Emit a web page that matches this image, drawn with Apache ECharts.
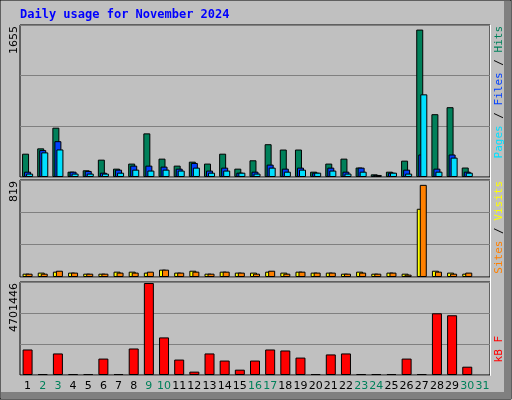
<!DOCTYPE html>
<html><head><meta charset="utf-8">
<script src="https://cdn.jsdelivr.net/npm/echarts@6/dist/echarts.min.js"></script>
<style>html,body{margin:0;padding:0;background:#c0c0c0}#c{width:512px;height:400px}</style>
</head><body><div id="c"></div>
<script>
const days = ['1','2','3','4','5','6','7','8','9','10','11','12','13','14','15','16','17','18','19','20','21','22','23','24','25','26','27','28','29','30','31'];
const weekend = ['2','3','9','10','16','17','23','24','30','31'];
const hits  = [254,312,537,58,73,189,91,146,475,200,124,167,146,254,91,182,357,299,299,58,146,200,103,29,58,178,1605,684,760,103,null];
const files = [58,293,390,58,66,47,80,124,124,113,91,153,70,102,47,58,135,91,102,47,102,58,102,22,47,80,245,91,245,58,null];
const pages = [37,268,300,37,37,37,47,80,70,80,70,102,47,70,47,37,102,58,80,47,70,37,58,22,47,37,900,58,211,47,null];
const visits= [28,37,45,37,28,28,45,45,37,62,37,53,28,45,37,37,45,37,45,37,37,28,45,28,37,28,576,53,37,28,null];
const sites = [28,28,53,37,28,28,37,37,45,62,37,45,28,45,37,28,53,28,45,37,37,28,37,28,37,20,778,45,28,37,null];
const kbytes= [1290000,0,1090000,0,0,830000,0,1340000,4650000,1900000,780000,170000,1090000,730000,270000,730000,1290000,1240000,880000,0,1040000,1090000,0,0,0,830000,0,3120000,3020000,420000,null];
const maxTop = 1655, maxMid = 819, maxBot = 4701446;

const ch = echarts.init(document.getElementById('c'));
const grids = [
  {left:20, top:25, width:470, height:152},
  {left:20, top:180, width:470, height:97},
  {left:20, top:282, width:470, height:93}
];
const xAx = i => ({type:'category', gridIndex:i, data:days, boundaryGap:true,
  axisLine:{show:false}, axisTick:{show:false},
  axisLabel:{show:i===2, interval:0, fontFamily:'DejaVu Sans', fontSize:11, margin:6,
    color: v => weekend.includes(v) ? '#00805a' : '#000'}});
const yAx = (i,m) => ({type:'value', gridIndex:i, min:0, max:m, interval:m/3,
  axisLine:{show:false}, axisTick:{show:false}, axisLabel:{show:false},
  splitLine:{lineStyle:{color:'#808080', width:1}}});
const bs = (name, xi, data, color, w, gap) => ({name, type:'bar', xAxisIndex:xi, yAxisIndex:xi, data,
  barWidth:w, barGap:gap, barMinHeight:1, animation:false,
  itemStyle:{color, borderColor:'#000', borderWidth:1}});
const vtext = (x, y, rich, text) => ({type:'text', x, y, rotation:Math.PI/2,
  style:{text, rich, fontFamily:'DejaVu Sans Mono', fontSize:11, align:'right', verticalAlign:'top'}});
ch.setOption({
  backgroundColor:'#c0c0c0',
  animation:false,
  grid: grids.map(g => Object.assign({show:true, borderColor:'#000', borderWidth:1, backgroundColor:'#c0c0c0'}, g)),
  xAxis:[xAx(0), xAx(1), xAx(2)],
  yAxis:[yAx(0,maxTop), yAx(1,maxMid), yAx(2,maxBot)],
  series:[
    bs('Hits',0,hits,'#00805a',7,'-71%'),
    bs('Files',0,files,'#0040ff',7,'-71%'),
    bs('Pages',0,pages,'#00e0ff',7,'-71%'),
    bs('Visits',1,visits,'#ffff00',7,'-57%'),
    bs('Sites',1,sites,'#ff8000',7,'-57%'),
    bs('KBytes',2,kbytes,'#ff0000',10,'0%')
  ],
  graphic:[
    {type:'rect', shape:{x:0,y:0,width:511,height:399}, style:{fill:'none', stroke:'#000', lineWidth:1}},
    {type:'rect', shape:{x:504,y:1,width:7,height:398}, style:{fill:'#808080'}},
    {type:'rect', shape:{x:1,y:392,width:510,height:7}, style:{fill:'#808080'}},
    {type:'polyline', shape:{points:[[490.5,25],[490.5,375.5],[20,375.5]]}, style:{stroke:'#fff', fill:'none', lineWidth:1}},
    {type:'text', x:20, y:9, style:{text:'Daily usage for November 2024', fill:'#0000ff', fontFamily:'DejaVu Sans Mono', fontWeight:'bold', fontSize:12}},
    {type:'text', x:9, y:26, rotation:Math.PI/2, style:{text:String(maxTop), fill:'#000', fontFamily:'DejaVu Sans', fontSize:11, align:'right', verticalAlign:'top'}},
    {type:'text', x:9, y:181, rotation:Math.PI/2, style:{text:String(maxMid), fill:'#000', fontFamily:'DejaVu Sans', fontSize:11, align:'right', verticalAlign:'top'}},
    {type:'text', x:9, y:283, rotation:Math.PI/2, style:{text:String(maxBot), fill:'#000', fontFamily:'DejaVu Sans', fontSize:11, align:'right', verticalAlign:'top'}},
    vtext(494, 26, {p:{fill:'#00e0ff'},s:{fill:'#000'},f:{fill:'#0040ff'},h:{fill:'#00805a'}}, '{p|Pages} {s|/} {f|Files} {s|/} {h|Hits}'),
    vtext(494, 181, {a:{fill:'#ff8000'},s:{fill:'#000'},b:{fill:'#ffff00'}}, '{a|Sites} {s|/} {b|Visits}'),
    vtext(494, 336, {a:{fill:'#ff0000'}}, '{a|kB F}')
  ]
});
</script></body></html>
